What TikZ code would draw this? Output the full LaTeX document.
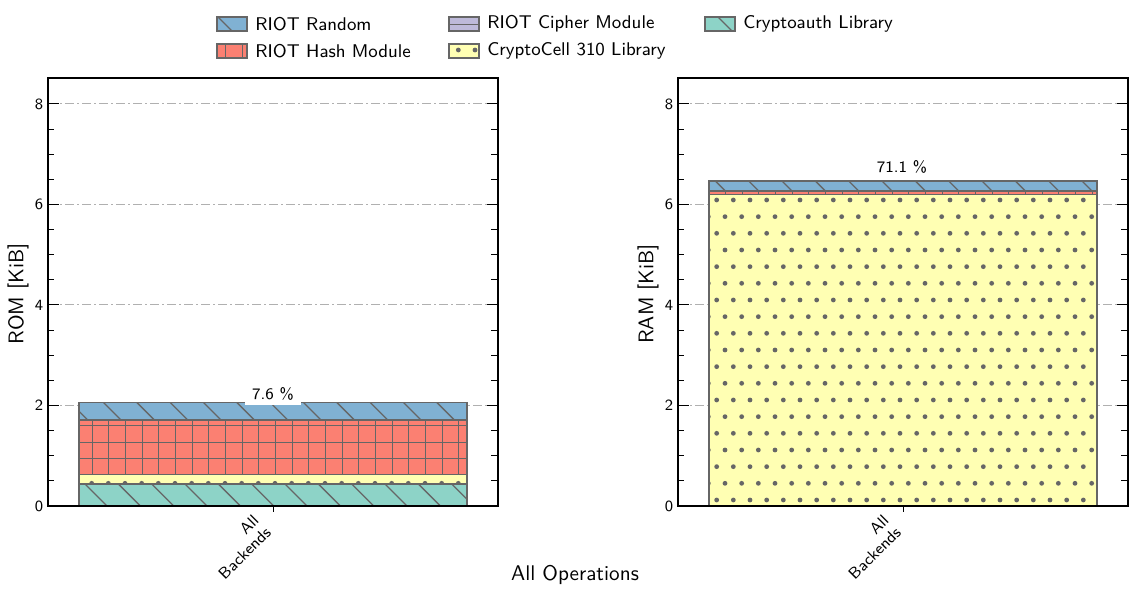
\documentclass[tikz,border=0pt]{standalone}
\definecolor{cblue}{HTML}{80B1D3}
\definecolor{cred}{HTML}{FB8072}
\definecolor{cpurple}{HTML}{BEBADA}
\definecolor{cyellow}{HTML}{FFFFB3}
\definecolor{cteal}{HTML}{8DD3C7}
\definecolor{cedge}{HTML}{666666}
\definecolor{gridc}{HTML}{B0B0B0}
\tikzset{
 hatchl/.style={draw=cedge, line width=0.65pt},
 segb/.style={draw=cedge, line width=0.55pt},
 gridl/.style={draw=gridc, line width=0.5pt, dash pattern=on 4.5pt off 1.6pt on 0.8pt off 1.6pt},
 tickl/.style={draw=black, line width=0.5pt},
 ticklab/.style={font=\sffamily\fontsize{7.8}{9}\selectfont, inner sep=0pt},
 leglab/.style={font=\sffamily\fontsize{9.2}{11}\selectfont, anchor=west, inner sep=0pt},
 axlab/.style={font=\sffamily\fontsize{10.6}{12}\selectfont, inner sep=0pt},
 xlab/.style={font=\sffamily\fontsize{8}{8.6}\selectfont, inner sep=0pt, align=right, rotate=45, anchor=north east},
 pctlab/.style={font=\sffamily\fontsize{8}{9.6}\selectfont, fill=white, inner xsep=3.5pt, inner ysep=2.5pt},
 frame/.style={draw=black, line width=0.6pt},
}
\newcommand\diaghatch[4]{%
 \begin{scope}
 \clip (#1,#2) rectangle (#3,#4);
 \foreach \kk in {-15,...,30}{
   \draw[hatchl] ({1+33.3333*(\kk)+#2},#2) -- ({1+33.3333*(\kk)+#4},#4);
 }
 \end{scope}}
\newcommand\verthatch[4]{%
 \begin{scope}
 \clip (#1,#2) rectangle (#3,#4);
 \foreach \jj in {0,...,61}{
   \draw[hatchl] ({round(91.6667+16.6667*\jj)+0.5},#2) -- ({round(91.6667+16.6667*\jj)+0.5},#4);
 }
 \end{scope}}
\newcommand\horhatch[4]{%
 \begin{scope}
 \clip (#1,#2) rectangle (#3,#4);
 \foreach \ii in {0,...,30}{
   \draw[hatchl] (#1,{round(8.3333+16.6667*\ii)+0.5}) -- (#3,{round(8.3333+16.6667*\ii)+0.5});
 }
 \end{scope}}
\newcommand\dothatch[4]{%
 \begin{scope}
 \clip (#1,#2) rectangle (#3,#4);
 \pgfmathtruncatemacro\rlo{floor((500-#4)/16.6667)}
 \pgfmathtruncatemacro\rhi{ceil((500-#2)/16.6667)}
 \pgfmathtruncatemacro\jlo{floor((#1-92)/16.6667)}
 \pgfmathtruncatemacro\jhi{ceil((#3-83)/16.6667)}
 \foreach \rr in {\rlo,...,\rhi}{
   \foreach \jj in {\jlo,...,\jhi}{
     \fill[cedge] ({83.3333+8.3333*mod(\rr,2)+16.6667*\jj},{500-16.6667*\rr}) circle[radius=1.2pt];
   }
 }
 \end{scope}}
\begin{document}
\begin{tikzpicture}[x=0.5pt,y=-0.5pt]
\useasboundingbox[fill=white] (0,0) rectangle (1137,597);

% ---------- grid lines ----------
\foreach \v in {2,4,6,8}{
  \draw[gridl] (48,{506-50.25*\v}) -- (498,{506-50.25*\v});
  \draw[gridl] (678,{506-50.25*\v}) -- (1128,{506-50.25*\v});
}

% ---------- left bar (ROM) ----------
\fill[cteal] (79,484) rectangle (467,506);
\diaghatch{79}{484}{467}{506}
\draw[segb] (79,484) rectangle (467,506);
\fill[cyellow] (79,474.3) rectangle (467,484);
\dothatch{79}{474.3}{467}{484}
\draw[segb] (79,474.3) rectangle (467,484);
\fill[cred] (79,420) rectangle (467,474.3);
\verthatch{79}{420}{467}{474.3}
\horhatch{79}{420}{467}{474.3}
\draw[segb] (79,420) rectangle (467,474.3);
\fill[cblue] (79,402.3) rectangle (467,420);
\diaghatch{79}{402.3}{467}{420}
\draw[segb] (79,402.3) rectangle (467,420);

% ---------- right bar (RAM) ----------
\fill[cyellow] (709,194.3) rectangle (1097,506);
\dothatch{709}{194.3}{1097}{506}
\draw[segb] (709,194.3) rectangle (1097,506);
\fill[cred] (709,191) rectangle (1097,194.3);
\verthatch{709}{191}{1097}{194.3}
\draw[segb] (709,191) rectangle (1097,194.3);
\fill[cblue] (709,181) rectangle (1097,191);
\diaghatch{709}{181}{1097}{191}
\draw[segb] (709,181) rectangle (1097,191);

% ---------- percentage labels ----------
\node[pctlab] (pctL) at (273,394) {7.6 \%};
\node[pctlab] (pctR) at (902,167) {71.1 \%};

% ---------- frames and ticks ----------
\draw[frame] (48,78) rectangle (498,506);
\draw[frame] (678,78) rectangle (1128,506);
\foreach \v in {0,2,4,6,8}{
  \draw[tickl] (48,{506-50.25*\v}) -- ++(11,0);
  \draw[tickl] (498,{506-50.25*\v}) -- ++(-11,0);
  \draw[tickl] (678,{506-50.25*\v}) -- ++(11,0);
  \draw[tickl] (1128,{506-50.25*\v}) -- ++(-11,0);
  \node[ticklab, anchor=east] (tl\v) at (43.5,{506-50.25*\v}) {\v};
  \node[ticklab, anchor=east] (tr\v) at (673.5,{506-50.25*\v}) {\v};
}
\foreach \v in {0.5,1,1.5,2.5,3,3.5,4.5,5,5.5,6.5,7,7.5}{
  \draw[tickl] (48,{506-50.25*\v}) -- ++(6,0);
  \draw[tickl] (498,{506-50.25*\v}) -- ++(-7,0);
  \draw[tickl] (678,{506-50.25*\v}) -- ++(6,0);
  \draw[tickl] (1128,{506-50.25*\v}) -- ++(-7,0);
}
\draw[tickl] (273,506) -- (273,512);
\draw[tickl] (903,506) -- (903,512);

% ---------- axis labels ----------
\node[xlab] (xtL) at (252,513) {All\\Backends};
\node[xlab] (xtR) at (882,513) {All\\Backends};
\node[axlab, rotate=90] (ylL) at (18,294) {ROM [KiB]};
\node[axlab, rotate=90] (ylR) at (648,294) {RAM [KiB]};
\node[axlab] (xl) at (575,575) {All Operations};

% ---------- legend ----------
% RIOT Random
\fill[cblue] (217,17) rectangle (247,31);
\diaghatch{217}{17}{247}{31}
\draw[segb] (217,17) rectangle (247,31);
\node[leglab] (lg1) at (255,24) {RIOT Random};
% RIOT Hash Module
\fill[cred] (217,44) rectangle (247,58);
\verthatch{217}{44}{247}{58}
\draw[segb] (217,44) rectangle (247,58);
\node[leglab] (lg2) at (255,51) {RIOT Hash Module};
% RIOT Cipher Module
\fill[cpurple] (449,17) rectangle (479,31);
\draw[hatchl] (449,24.5) -- (479,24.5);
\draw[segb] (449,17) rectangle (479,31);
\node[leglab] (lg3) at (487,24) {RIOT Cipher Module};
% CryptoCell 310 Library
\fill[cyellow] (449,44) rectangle (479,58);
\dothatch{449}{44}{479}{58}
\draw[segb] (449,44) rectangle (479,58);
\node[leglab] (lg4) at (487,51) {CryptoCell 310 Library};
% Cryptoauth Library
\fill[cteal] (705,17) rectangle (735,31);
\diaghatch{705}{17}{735}{31}
\draw[segb] (705,17) rectangle (735,31);
\node[leglab] (lg5) at (743,24) {Cryptoauth Library};
\end{tikzpicture}
\end{document}
